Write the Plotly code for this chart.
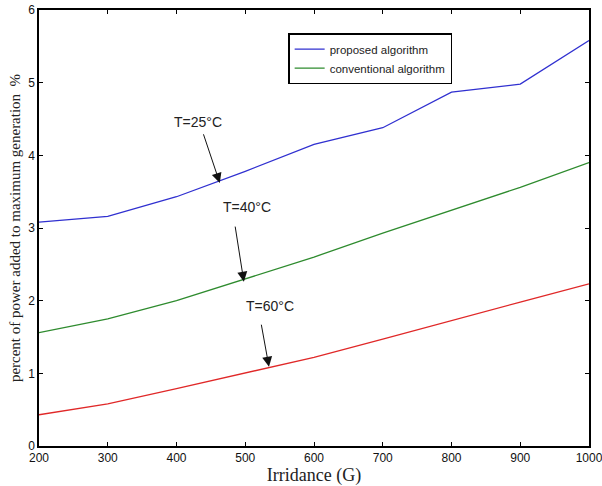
import plotly.graph_objects as go

irradiance = [200, 300, 400, 500, 600, 700, 800, 900, 1000]
proposed = [3.08, 3.16, 3.43, 3.78, 4.15, 4.38, 4.87, 4.98, 5.58]
conventional = [1.56, 1.75, 2.00, 2.30, 2.60, 2.93, 3.25, 3.56, 3.90]
t60 = [0.43, 0.58, 0.79, 1.00, 1.22, 1.47, 1.73, 1.98, 2.23]

x_ticks = [200, 300, 400, 500, 600, 700, 800, 900, 1000]
y_ticks = [0, 1, 2, 3, 4, 5, 6]

fig = go.Figure()
fig.add_trace(go.Scatter(x=irradiance, y=proposed, mode="lines", name="proposed algorithm",
                         line=dict(color="#3030d0", width=1.3)))
fig.add_trace(go.Scatter(x=irradiance, y=conventional, mode="lines", name="conventional algorithm",
                         line=dict(color="#2e8b2e", width=1.3)))
fig.add_trace(go.Scatter(x=irradiance, y=t60, mode="lines", name="T=60",
                         line=dict(color="#e02828", width=1.3), showlegend=False))

labels = [
    ("T=25°C", 431, 4.46, 463, 3.62, 438.5, 4.31),
    ("T=40°C", 502.5, 3.29, 498, 2.26, 485, 3.04),
    ("T=60°C", 536, 1.93, 534.5, 1.09, 523, 1.69),
]
for txt, tx, ty, hx, hy, sx, sy in labels:
    fig.add_annotation(x=tx, y=ty, text=txt, showarrow=False,
                       font=dict(family="Liberation Sans, Arial", size=14, color="#222"))
    fig.add_annotation(x=hx, y=hy, ax=sx, ay=sy, axref="x", ayref="y", text="",
                       showarrow=True, arrowhead=2, arrowsize=2, arrowwidth=1, arrowcolor="#111")

axis_common = dict(showgrid=False, zeroline=False, showline=True, linecolor="black", linewidth=1.5,
                   mirror="ticks", ticks="inside", ticklen=4, tickcolor="black", automargin=False,
                   ticklabeloverflow="allow",
                   tickfont=dict(family="Liberation Sans, Arial", size=12, color="#111"))

fig.update_xaxes(range=[200, 1000], tickvals=x_ticks, **axis_common,
                 title=dict(text="Irridance (G)", font=dict(family="Liberation Serif, Times New Roman", size=18, color="#222"),
                            standoff=0))
fig.update_yaxes(range=[0, 6], tickvals=y_ticks, **axis_common,
                 title=dict(text="percent of power added to maximum generation  %",
                            font=dict(family="Liberation Serif, Times New Roman", size=15, color="#222"),
                            standoff=4))

fig.update_layout(
    width=602, height=486,
    margin=dict(l=39, r=13, t=10, b=40),
    paper_bgcolor="white", plot_bgcolor="white",
    legend=dict(x=0.453, y=0.947, xanchor="left", yanchor="top",
                bgcolor="white", bordercolor="black", borderwidth=1.5,
                font=dict(family="Liberation Sans, Arial", size=11.5, color="#222"),
                itemwidth=30, tracegroupgap=0),
    showlegend=True,
)

fig.write_html("out.html")
